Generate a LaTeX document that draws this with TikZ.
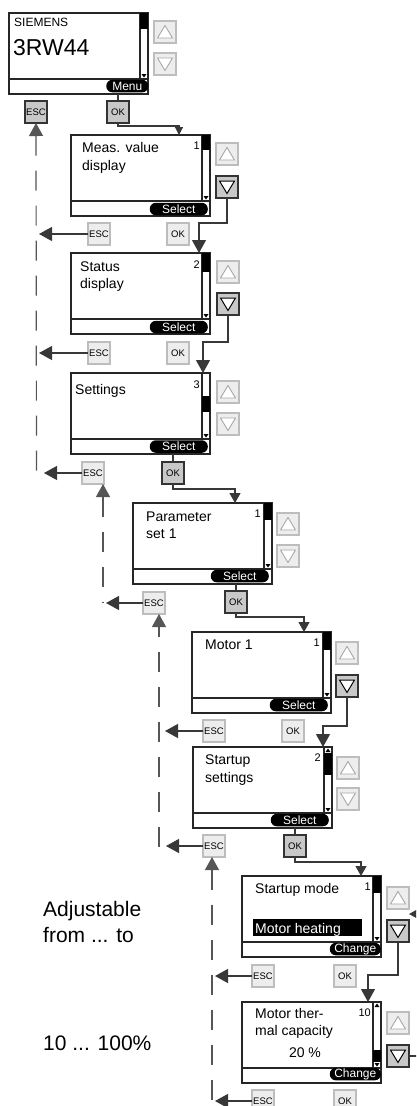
\documentclass[tikz,border=0pt]{standalone}
\usepackage{fontspec}
\setmainfont{Liberation Sans}
\usetikzlibrary{arrows.meta,calc}
\definecolor{ln}{HTML}{383838}
\definecolor{btnfill}{HTML}{EDEDED}
\definecolor{btnedge}{HTML}{BDBDBD}
\definecolor{onfill}{HTML}{C8C8C8}
\definecolor{triedge}{HTML}{A8A8A8}
\newcommand\ftxt{\fontsize{14}{16}\selectfont}
\newcommand\fpill{\fontsize{12}{13}\selectfont}
\newcommand\fnum{\fontsize{11}{12}\selectfont}
\newcommand\fbtn{\fontsize{9.5}{10}\selectfont}
\newcommand\fside{\fontsize{21}{24}\selectfont}
\newcommand\fmodel{\fontsize{23}{26}\selectfont}
\newcommand\fbrand{\fontsize{12}{13}\selectfont}
% screen: name, x, y, thumb top offset, thumb bottom offset
\newcommand\lcdscreen[5]{%
  \node[screen] (#1) at (#2,#3) {};
  \draw[lcdl] (#2,#3+66) -- (#2+139,#3+66);
  \draw[lcdl] (#2+131,#3) -- (#2+131,#3+66);
  \fill (#2+131,#3+#4) rectangle (#2+139,#3+#5);
  \fill (#2+132.5,#3+61) -- (#2+137.5,#3+61) -- (#2+135,#3+64.5) -- cycle;
}
\newcommand\scrolltopmark[2]{%
  \fill (#1+132.5,#2+5) -- (#1+137.5,#2+5) -- (#1+135,#2+1.5) -- cycle;
}
% buttons: name, x, y, on/off
\newcommand\upbutton[4]{%
  \node[btn#4] (#1) at (#2,#3) {};
  \draw[tri#4] (#2+3.5,#3+17) -- (#2+18.5,#3+17) -- (#2+11,#3+4.5) -- cycle;
}
\newcommand\downbutton[4]{%
  \node[btn#4] (#1) at (#2,#3) {};
  \draw[tri#4] (#2+3.5,#3+5) -- (#2+18.5,#3+5) -- (#2+11,#3+17.5) -- cycle;
}
\begin{document}
\begin{tikzpicture}[x=1pt,y=-1pt,
  screen/.style={draw=black!85,line width=1.5pt,fill=white,minimum width=139pt,minimum height=81pt,inner sep=0pt,outer sep=0pt,anchor=north west},
  lcdl/.style={draw=black!85,line width=1.2pt},
  btn/.style={minimum width=22pt,minimum height=22pt,inner sep=0pt,outer sep=0pt,anchor=north west,line width=1.5pt,font=\fbtn},
  btnoff/.style={btn,draw=btnedge,fill=btnfill},
  btnon/.style={btn,draw=black!80,fill=onfill},
  trioff/.style={draw=triedge,fill=white,line width=0.9pt},
  trion/.style={draw=black,fill=white,line width=1pt},
  pill/.style={fill=black,text=white,rounded corners=6pt,inner sep=0pt,minimum height=12.5pt,anchor=south east,font=\fpill},
  txt/.style={anchor=base west,inner sep=0pt,font=\ftxt},
  num/.style={anchor=base east,inner sep=0pt,font=\fnum},
  conn/.style={draw=ln,line width=1.2pt},
  dsh/.style={draw=ln!85,line width=1.2pt,dash pattern=on 20pt off 15pt},
  bigarrow/.style={-{Triangle[width=14pt,length=13pt]}},
  smarrow/.style={-{Triangle[width=11pt,length=10pt]}},
  xsarrow/.style={-{Triangle[width=8pt,length=8pt]}},
  uparrow/.style={{Triangle[width=14pt,length=13pt]}-},
]
\useasboundingbox (0,0) rectangle (416,1106);
\fill[white] (0,0) rectangle (416,1106);
\clip (0,0) rectangle (416,1106);

% ---------- screens ----------
\lcdscreen{s1}{9}{13}{0}{16}
\node[anchor=base west,inner sep=0pt,font=\fbrand] (brand) at (14,26) {SIEMENS};
\node[anchor=base west,inner sep=0pt,font=\fmodel] (model) at (13,55) {3RW44};
\node[pill,minimum width=42pt] (p1) at (148.5,92.5) {Menu};

\lcdscreen{s2}{71}{135}{0}{15}
\node[txt] (t2a) at (82,152) {Meas. value};
\node[txt] (t2b) at (82,170) {display};
\node[num] (n2) at (200,149) {1};
\node[pill,minimum width=58pt] (p2) at (208,215.5) {Select};

\lcdscreen{s3}{71}{253}{0}{19}
\node[txt] (t3a) at (80,271) {Status};
\node[txt] (t3b) at (80,288) {display};
\node[num] (n3) at (200,268) {2};
\node[pill,minimum width=58pt] (p3) at (208,333.5) {Select};

\lcdscreen{s4}{71}{373}{23}{39}
\node[txt] (t4a) at (75,394) {Settings};
\node[num] (n4) at (200,388) {3};
\node[pill,minimum width=58pt] (p4) at (208,453) {Select};

\lcdscreen{s5}{133}{503}{0}{17}
\node[txt] (t5a) at (146,521) {Parameter};
\node[txt] (t5b) at (146,538) {set 1};
\node[num] (n5) at (261,517) {1};
\node[pill,minimum width=58pt] (p5) at (269,582.5) {Select};

\lcdscreen{s6}{192}{632}{0}{18}
\node[txt] (t6a) at (205,649) {Motor 1};
\node[num] (n6) at (320,646) {1};
\node[pill,minimum width=58pt] (p6) at (328,711.5) {Select};

\lcdscreen{s7}{193}{747}{6}{28}
\scrolltopmark{193}{747}
\node[txt] (t7a) at (205,764) {Startup};
\node[txt] (t7b) at (205,782) {settings};
\node[num] (n7) at (321,761) {2};
\node[pill,minimum width=58pt] (p7) at (329,826.5) {Select};

\lcdscreen{s8}{242}{876}{0}{17}
\node[txt] (t8a) at (255,893) {Startup mode};
\node[num] (n8) at (371,890) {1};
\fill (253,919) rectangle (362,936);
\node[txt,text=white] (t8b) at (255,933) {Motor heating};
\node[pill,minimum width=51pt] (p8) at (381,955.5) {Change};

\lcdscreen{s9}{242}{1002}{48}{60}
\scrolltopmark{242}{1002}
\node[txt] (t9a) at (255,1018) {Motor ther-};
\node[txt] (t9b) at (255,1035) {mal capacity};
\node[anchor=base,inner sep=0pt,font=\ftxt] (t9c) at (305,1057) {20 \%};
\node[num] (n9) at (371,1016) {10};
\node[pill,minimum width=51pt] (p9) at (381,1080.5) {Change};

% ---------- side buttons ----------
\upbutton{up1}{154}{21}{off}
\downbutton{dn1}{154}{53}{off}
\upbutton{up2}{216}{143}{off}
\downbutton{dn2}{216}{176}{on}
\upbutton{up3}{217}{261}{off}
\downbutton{dn3}{217}{293}{on}
\upbutton{up4}{217}{381}{off}
\downbutton{dn4}{217}{413}{off}
\upbutton{up5}{277}{513}{off}
\downbutton{dn5}{277}{545}{off}
\upbutton{up6}{336}{642}{off}
\downbutton{dn6}{336}{675}{on}
\upbutton{up7}{337}{757}{off}
\downbutton{dn7}{337}{788}{off}
\upbutton{up8}{387}{887}{off}
\downbutton{dn8}{387}{920}{on}
\upbutton{up9}{387}{1012}{off}
\downbutton{dn9}{387}{1045}{on}

% ---------- ESC / OK buttons ----------
\node[btnon]  (esc1) at (25,101) {ESC};
\node[btnon]  (ok1)  at (107,101) {OK};
\node[btnoff] (esc2) at (88,223) {ESC};
\node[btnoff] (ok2)  at (167,223) {OK};
\node[btnoff] (esc3) at (88,342) {ESC};
\node[btnoff] (ok3)  at (167,342) {OK};
\node[btnoff] (esc4) at (82,462) {ESC};
\node[btnon]  (ok4)  at (162,462) {OK};
\node[btnoff] (esc5) at (143,592) {ESC};
\node[btnon]  (ok5)  at (225,591) {OK};
\node[btnoff] (esc6) at (203,720) {ESC};
\node[btnoff] (ok6)  at (282,720) {OK};
\node[btnoff] (esc7) at (203,835) {ESC};
\node[btnon]  (ok7)  at (284,835) {OK};
\node[btnoff] (esc8) at (252,965) {ESC};
\node[btnoff] (ok8)  at (334,965) {OK};
\node[btnoff] (esc9) at (252,1090) {ESC};
\node[btnoff] (ok9)  at (334,1090) {OK};

% ---------- OK connectors ----------
\draw[conn] (s1.south -| ok1.north) -- (ok1.north);
\draw[conn,xsarrow] (ok1.south) -- ++(0,3) -| (s2.north -| 179,0);
\draw[conn] (s4.south -| ok4.north) -- (ok4.north);
\draw[conn,smarrow] (ok4.south) -- ++(0,5) -| (s5.north -| 235,0);
\draw[conn] (s5.south -| ok5.north) -- (ok5.north);
\draw[conn,smarrow] (ok5.south) -- ++(0,4) -| (s6.north -| 304,0);
\draw[conn] (s7.south -| ok7.north) -- (ok7.north);
\draw[conn,smarrow] (ok7.south) -- ++(0,5) -| (s8.north -| 361,0);

% ---------- down-button connectors ----------
\draw[conn,bigarrow] (dn2.south) -- ++(0,25) -| (s3.north -| 199,0);
\draw[conn,bigarrow] (dn3.south) -- ++(0,27) -| (s4.north -| 203,0);
\draw[conn,bigarrow] (dn6.south) -- ++(0,29) -| (s7.north -| 323,0);
\draw[conn,bigarrow] (dn8.south) -- ++(0,33) -| (s9.north -| 368,0);
\coordinate (rout) at (430,1056);
\coordinate (rin) at (432,914);
\draw[conn] (dn9.east) -- (dn9.east -| rout);
\draw[conn,bigarrow] (rin) -- (rin -| up8.east);

% ---------- ESC connectors ----------
\draw[dsh,uparrow] (esc1.south) -- (36.5,473);
\draw[conn,bigarrow] (esc2.west) -- (esc2.west -| 39,0);
\draw[conn,bigarrow] (esc3.west) -- (esc3.west -| 39,0);
\draw[conn,bigarrow] (esc4.west) -- (esc4.west -| 44,0);

\draw[dsh,uparrow] (esc4.south -| 103,0) -- (103,603);
\draw[conn,bigarrow] (esc5.west) -- (esc5.west -| 106,0);

\draw[dsh,uparrow,dash phase=10pt] (esc5.south -| 159,0) -- (159,847);
\draw[conn,bigarrow] (esc6.west) -- (esc6.west -| 165,0);
\draw[conn,bigarrow] (esc7.west) -- (esc7.west -| 166,0);

\draw[dsh,uparrow] (esc7.south -| 212,0) -- (212,1115);
\draw[conn,bigarrow] (esc8.west) -- (esc8.west -| 215,0);
\draw[conn,bigarrow] (esc9.west) -- (esc9.west -| 215,0);

% ---------- side texts ----------
\node[anchor=base west,inner sep=0pt,font=\fside] (adj1) at (43,916) {Adjustable};
\node[anchor=base west,inner sep=0pt,font=\fside] (adj2) at (43,942) {from ... to};
\node[anchor=base west,inner sep=0pt,font=\fside] (rng) at (43,1050) {10 ... 100\%};
\end{tikzpicture}
\end{document}
